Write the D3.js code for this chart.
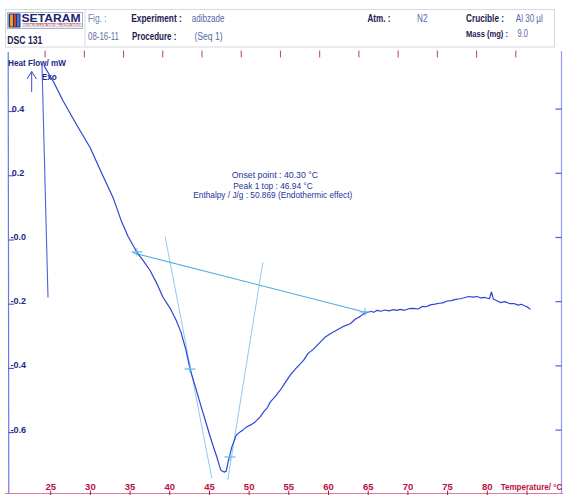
<!DOCTYPE html>
<html>
<head>
<meta charset="utf-8">
<script src="https://cdn.jsdelivr.net/npm/d3@7/dist/d3.min.js"></script>
<style>
  html, body { margin: 0; padding: 0; background: #ffffff; }
  svg { display: block; font-family: "Liberation Sans", Arial, sans-serif; }
</style>
</head>
<body>
<svg id="chart" width="563" height="495"></svg>
<script>
// DSC 131 thermogram: heat flow (mW) against sample temperature (°C)

// Measured curve
const temperature = [
  24.16, 25.42, 26.55, 28.19, 29.96, 31.34, 32.86, 33.87, 34.75, 35.88,
  36.70, 37.52, 38.30, 39.16, 40.03, 40.79, 41.41, 42.04, 42.55, 43.20, 43.83,
  44.45, 45.09, 45.55, 45.93, 46.25, 46.44, 46.85, 47.11, 47.40, 47.83,
  48.37, 48.90, 49.30, 49.72, 50.20, 50.70, 51.39, 51.90, 52.30, 52.65,
  53.30, 53.91, 54.50, 55.17, 55.90, 56.85, 57.40, 58.10, 58.96, 59.60,
  60.22, 61.00, 61.80, 62.74, 63.40, 64.00, 64.42, 64.90, 65.30, 65.70,
  66.11, 66.60, 67.10, 67.60, 68.20, 68.60, 69.04, 69.60, 70.10, 70.69,
  71.30, 71.80, 72.30, 72.83, 73.40, 73.90, 74.40, 74.94, 75.50, 76.00,
  76.60, 77.10, 77.66, 78.20, 78.70, 79.14, 79.70, 80.27, 80.52, 80.77,
  81.20, 81.65, 82.20, 82.80, 83.33, 83.90, 84.30, 84.60, 85.00, 85.44
];
const heatFlow = [
  0.543, 0.490, 0.434, 0.362, 0.288, 0.213, 0.132, 0.061, 0.011, -0.039,
  -0.066, -0.095, -0.132, -0.179, -0.212, -0.249, -0.287, -0.343, -0.402, -0.455, -0.509,
  -0.560, -0.613, -0.648, -0.676, -0.703, -0.717, -0.723, -0.720, -0.686, -0.644,
  -0.608, -0.597, -0.590, -0.582, -0.576, -0.568, -0.551, -0.533, -0.522, -0.505,
  -0.487, -0.468, -0.446, -0.421, -0.400, -0.375, -0.354, -0.340, -0.318, -0.302,
  -0.292, -0.281, -0.270, -0.261, -0.246, -0.238, -0.230, -0.226, -0.222, -0.225,
  -0.219, -0.222, -0.218, -0.221, -0.217, -0.219, -0.216, -0.219, -0.214, -0.213,
  -0.215, -0.207, -0.208, -0.202, -0.200, -0.197, -0.196, -0.190, -0.189, -0.185,
  -0.183, -0.180, -0.176, -0.178, -0.176, -0.180, -0.179, -0.183, -0.162, -0.184,
  -0.189, -0.195, -0.192, -0.198, -0.198, -0.203, -0.200, -0.204, -0.208, -0.216
];

// Start-up jump of the signal
const transientT  = [24.66, 23.90];
const transientHF = [-0.179, 0.549];

// Peak integration construction
const baselineT  = [35.38, 64.63];
const baselineHF = [-0.040, -0.225];
const leftTangentT  = [39.41, 45.29];
const leftTangentHF = [0.011, -0.742];
const rightTangentT  = [51.73, 47.30];
const rightTangentHF = [-0.069, -0.748];
const markerT  = [35.87, 42.55, 47.59, 64.59];
const markerHF = [-0.037, -0.402, -0.676, -0.224];

// Axes
const tempTicks = [25, 30, 35, 40, 45, 50, 55, 60, 65, 70, 75, 80, 85];
const tempLabels = ["25", "30", "35", "40", "45", "50", "55", "60", "65", "70", "75", "80"];
const hfTicks = [0.4, 0.2, 0.0, -0.2, -0.4, -0.6];
const hfLabels = ["0.4", "0.2", "-0.0", "-0.2", "-0.4", "-0.6"];
const timeTicks = [0, 1, 2, 3, 4, 5, 6, 7, 8, 9, 10, 11, 12];

// Result annotations
const resultLines = [
  "Onset point : 40.30  \u00B0C",
  "Peak 1 top : 46.94  \u00B0C",
  "Enthalpy / J/g : 50.869 (Endothermic effect)"
];

const svg = d3.select("#chart");
svg.append("rect").attr("width", 563).attr("height", 495).attr("fill", "#ffffff");

const x = d3.scaleLinear().domain([25, 80]).range([50.7, 487.3]);
const y = d3.scaleLinear().domain([-0.6, 0.4]).range([432.6, 111.6]);
const xTime = d3.scaleLinear().domain([0, 12]).range([45.1, 515.8]);

function label(g, px, py, str, o) {
  const t = g.append("text")
    .attr("x", px).attr("y", py)
    .attr("font-size", o.size || 10)
    .attr("font-weight", o.bold ? "bold" : "normal")
    .attr("fill", o.color || "#1c2050")
    .text(str);
  if (o.width) t.attr("textLength", o.width).attr("lengthAdjust", "spacingAndGlyphs");
  if (o.anchor) t.attr("text-anchor", o.anchor);
  return t;
}

// ---- Header block ----
const head = svg.append("g");
head.append("rect").attr("x", 5.5).attr("y", 9.5).attr("width", 549).attr("height", 37.5)
  .attr("fill", "none").attr("stroke", "#d8d8e0").attr("stroke-width", 1);
head.append("line").attr("x1", 85).attr("x2", 85).attr("y1", 10).attr("y2", 47)
  .attr("stroke", "#d8d8e0");
// logo
head.append("rect").attr("x", 7.5).attr("y", 12.5).attr("width", 75).attr("height", 16)
  .attr("fill", "#ffffff").attr("stroke", "#9aa0c0").attr("stroke-width", 0.8);
head.append("rect").attr("x", 8.5).attr("y", 13.5).attr("width", 12).attr("height", 14).attr("fill", "#23307a");
head.append("rect").attr("x", 10).attr("y", 14.5).attr("width", 3).attr("height", 12).attr("fill", "#e8a020");
head.append("rect").attr("x", 14).attr("y", 14.5).attr("width", 2).attr("height", 12).attr("fill", "#d04030");
head.append("rect").attr("x", 17).attr("y", 14.5).attr("width", 2.5).attr("height", 12).attr("fill", "#4a7ad0");
label(head, 21.5, 21.5, "SETARAM", {size: 10, bold: true, color: "#1d2470", width: 59});
head.append("rect").attr("x", 23).attr("y", 23.3).attr("width", 58).attr("height", 3.6)
  .attr("fill", "#ffffff").attr("stroke", "#8088b8").attr("stroke-width", 0.5);
label(head, 24.5, 26.3, "INSTRUMENTATION \u2022 R\u00C9GULATION", {size: 3, color: "#c03040", width: 55});
label(head, 7.3, 44, "DSC 131", {size: 10, bold: true, color: "#1c2050", width: 35});

const valCol = "#5866a8";
label(head, 88, 21.5, "Fig. :", {size: 10, color: "#7080b0", width: 18.5});
label(head, 88, 39.5, "08-16-11", {size: 10, color: "#6070a8", width: 31});
label(head, 131.3, 21.5, "Experiment :", {size: 10, bold: true, width: 50.5});
label(head, 191.7, 21.5, "adibzade", {size: 10, color: valCol, width: 32.7});
label(head, 132, 40, "Procedure :", {size: 10, bold: true, width: 44.4});
label(head, 194.5, 40, "(Seq  1)", {size: 10, color: valCol, width: 28});
label(head, 367.4, 21.5, "Atm. :", {size: 10, bold: true, width: 23});
label(head, 417, 21.5, "N2", {size: 10, color: valCol, width: 10.5});
label(head, 466, 21.5, "Crucible :", {size: 10, bold: true, width: 38});
label(head, 515.8, 21.5, "Al 30 \u00B5l", {size: 10, color: valCol, width: 27});
label(head, 466, 37, "Mass (mg) :", {size: 8.5, bold: true, width: 42});
label(head, 517.5, 37, "9.0", {size: 10, color: valCol, width: 10.5});

// ---- Frame: top time axis, right heat-flow axis, bottom temperature axis ----
const frame = svg.append("g");
const topGrad = svg.append("defs").append("linearGradient").attr("id", "topLine");
topGrad.append("stop").attr("offset", "0%").attr("stop-color", "#e05070");
topGrad.append("stop").attr("offset", "100%").attr("stop-color", "#b060c8");
frame.append("line").attr("x1", 5).attr("x2", 558).attr("y1", 50.5).attr("y2", 50.5)
  .attr("stroke", "url(#topLine)").attr("stroke-width", 1.2);
frame.selectAll(".tt").data(timeTicks).join("line")
  .attr("x1", d => xTime(d)).attr("x2", d => xTime(d))
  .attr("y1", 50.5).attr("y2", 57.5)
  .attr("stroke", "#c83a68").attr("stroke-width", 1);

// right axis
frame.append("line").attr("x1", 561.5).attr("x2", 561.5).attr("y1", 51).attr("y2", 493)
  .attr("stroke", "#9098f0").attr("stroke-width", 1.2);
frame.selectAll(".rt").data(hfTicks).join("line")
  .attr("x1", 555.5).attr("x2", 561.5)
  .attr("y1", d => y(d) - 2.5).attr("y2", d => y(d) - 2.5)
  .attr("stroke", "#3a6ad0").attr("stroke-width", 1.2);

// bottom axis
frame.append("line").attr("x1", 5).attr("x2", 563).attr("y1", 493.5).attr("y2", 493.5)
  .attr("stroke", "#e07aa0").attr("stroke-width", 1.2);
frame.selectAll(".bt").data(tempTicks).join("line")
  .attr("x1", d => x(d)).attr("x2", d => x(d))
  .attr("y1", 490.5).attr("y2", 495)
  .attr("stroke", "#b8103e").attr("stroke-width", 1);
frame.selectAll(".bl").data(tempLabels).join("text")
  .attr("x", d => x(+d)).attr("y", 489.5)
  .attr("text-anchor", "middle")
  .attr("font-size", 9.5).attr("font-weight", "bold").attr("fill", "#b8103e")
  .text(d => d);
label(frame, 500.7, 489.5, "Temperature/ \u00B0C", {size: 9.5, bold: true, color: "#b8103e", width: 61.5});

// left axis
frame.append("line").attr("x1", 8.2).attr("x2", 8.8).attr("y1", 52).attr("y2", 493)
  .attr("stroke", "#6878e8").attr("stroke-width", 1.2);
frame.selectAll(".lt").data(hfTicks).join("line")
  .attr("x1", 8.5).attr("x2", 14)
  .attr("y1", d => y(d)).attr("y2", d => y(d))
  .attr("stroke", "#3048b8").attr("stroke-width", 1);
frame.selectAll(".ll").data(hfTicks).join("text")
  .attr("x", (d, i) => hfLabels[i].startsWith("-") ? 10.5 : 11.7)
  .attr("y", d => y(d))
  .attr("font-size", 9).attr("font-weight", "bold").attr("fill", "#1a2a80")
  .text((d, i) => hfLabels[i]);

label(frame, 8, 66, "Heat Flow/ mW", {size: 9.5, bold: true, color: "#1a2a80", width: 58});
label(frame, 41.7, 80, "Exo", {size: 9.5, bold: true, color: "#1a2a80", width: 15});
frame.append("path")
  .attr("d", "M31.7,92 L31.7,71.5 M27,79 L31.7,71.5 L36.4,79")
  .attr("fill", "none").attr("stroke", "#3a4cc0").attr("stroke-width", 1);

// ---- Plot marks ----
const plot = svg.append("g");
const line = d3.line().x(d => x(d[0])).y(d => y(d[1]));

const construct = (ts, hs, col, w) => plot.append("path")
  .datum(ts.map((t, i) => [t, hs[i]]))
  .attr("d", line).attr("fill", "none").attr("stroke", col).attr("stroke-width", w);

construct(leftTangentT, leftTangentHF, "#8ccaee", 1);
construct(rightTangentT, rightTangentHF, "#8ccaee", 1);
construct(baselineT, baselineHF, "#4eaade", 1.1);

construct(transientT, transientHF, "#4c62dc", 1.1);
plot.append("path")
  .datum(temperature.map((t, i) => [t, heatFlow[i]]))
  .attr("d", line).attr("fill", "none")
  .attr("stroke", "#2c46d4").attr("stroke-width", 1.2).attr("stroke-linejoin", "round");

// construction markers
const marks = plot.selectAll(".mk").data(markerT.map((t, i) => [t, markerHF[i]])).join("g")
  .attr("transform", d => `translate(${x(d[0])},${y(d[1])})`);
marks.append("line").attr("x1", -5.5).attr("x2", 5.5).attr("y1", 0).attr("y2", 0)
  .attr("stroke", "#6ab8e4").attr("stroke-width", 1.2);
marks.append("line").attr("x1", 0).attr("x2", 0).attr("y1", -4).attr("y2", 4)
  .attr("stroke", "#6ab8e4").attr("stroke-width", 1);

// results text
const res = svg.append("g");
const resX = [231.7, 233.3, 193.3];
const resW = [86.5, 79.5, 159];
const resY = [178, 188.5, 198];
resultLines.forEach((s, i) => label(res, resX[i], resY[i], s, {size: 9, color: "#26349a", width: resW[i]}));
</script>
</body>
</html>
